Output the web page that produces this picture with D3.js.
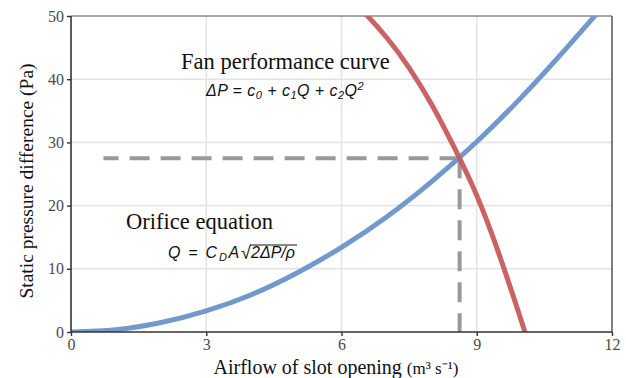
<!DOCTYPE html>
<html>
<head>
<meta charset="utf-8">
<script src="https://cdn.jsdelivr.net/npm/d3@7"></script>
<style>
  html, body { margin: 0; padding: 0; background: #fff; }
  svg { display: block; }
</style>
</head>
<body>
<script>
// values
var xTicks = [0, 3, 6, 9, 12];
var yTicks = [0, 10, 20, 30, 40, 50];

// orifice equation (blue)
var orificeQ = [0, 1, 2, 3, 4, 5, 6, 7, 8, 9, 10, 11, 11.8];
var orificeDP = [0, 0.37, 1.5, 3.35, 5.9, 9.3, 13.4, 18.2, 23.8, 30.1, 37.2, 45, 51.5];

// fan performance curve (red)
var fanQ = [6.3, 6.5, 7, 7.5, 8, 8.5, 9, 9.5, 10, 10.2];
var fanDP = [52.0, 50.6, 46.6, 41.8, 36.0, 29.2, 21.6, 12.2, 1.5, -3.0];

// operating point and where the horizontal guide starts
var opQ = 8.62, opDP = 27.5, guideStartQ = 0.72;

var W = 626, H = 378;
var margin = { top: 16, right: 14, bottom: 46, left: 71 },
  width = 612 - margin.left,
  height = 332 - margin.top;

var x = d3.scaleLinear().domain([0, 12]).range([0, width]);
var y = d3.scaleLinear().domain([0, 50]).range([height, 0]);

var svg = d3.select("body").append("svg")
  .attr("width", W)
  .attr("height", H);

svg.append("defs").append("clipPath")
  .attr("id", "plot")
  .append("rect")
  .attr("width", width)
  .attr("height", height);

var g = svg.append("g")
  .attr("transform", "translate(" + margin.left + "," + margin.top + ")");

// grid
g.selectAll(".vgrid")
  .data(xTicks.slice(1, -1))
  .enter().append("line")
  .attr("x1", function (d) { return x(d); })
  .attr("x2", function (d) { return x(d); })
  .attr("y1", 0).attr("y2", height)
  .attr("stroke", "#e3e3e3").attr("stroke-width", 1.5);

g.selectAll(".hgrid")
  .data(yTicks.slice(1, -1))
  .enter().append("line")
  .attr("y1", function (d) { return y(d); })
  .attr("y2", function (d) { return y(d); })
  .attr("x1", 0).attr("x2", width)
  .attr("stroke", "#e3e3e3").attr("stroke-width", 1.5);

// frame top / right
g.append("line").attr("x1", 0).attr("x2", width).attr("y1", 0).attr("y2", 0)
  .attr("stroke", "#888").attr("stroke-width", 1.5);
g.append("line").attr("x1", width).attr("x2", width).attr("y1", 0).attr("y2", height)
  .attr("stroke", "#555").attr("stroke-width", 1.5);

var plot = g.append("g").attr("clip-path", "url(#plot)");

// dashed guides to the operating point
plot.append("line")
  .attr("x1", x(opQ)).attr("y1", y(opDP))
  .attr("x2", x(guideStartQ)).attr("y2", y(opDP))
  .attr("stroke", "#999").attr("stroke-width", 4)
  .attr("stroke-dasharray", "20,11");
plot.append("line")
  .attr("x1", x(opQ)).attr("y1", y(opDP))
  .attr("x2", x(opQ)).attr("y2", height)
  .attr("stroke", "#999").attr("stroke-width", 4)
  .attr("stroke-dasharray", "20,11");

var line = d3.line()
  .x(function (d) { return x(d[0]); })
  .y(function (d) { return y(d[1]); })
  .curve(d3.curveNatural);

plot.append("path")
  .datum(d3.zip(orificeQ, orificeDP))
  .attr("d", line)
  .attr("fill", "none")
  .attr("stroke", "#7199cb")
  .attr("stroke-width", 5);

plot.append("path")
  .datum(d3.zip(fanQ, fanDP))
  .attr("d", line)
  .attr("fill", "none")
  .attr("stroke", "#c65b5c")
  .attr("stroke-width", 5)
  .attr("stroke-opacity", 0.95);

// axes
var xAxis = g.append("g")
  .attr("transform", "translate(0," + height + ")")
  .call(d3.axisBottom(x).tickValues(xTicks).tickSize(4).tickPadding(3));
var yAxis = g.append("g")
  .call(d3.axisLeft(y).tickValues(yTicks).tickSize(4).tickPadding(3));

[xAxis, yAxis].forEach(function (a) {
  a.select(".domain").attr("stroke", "#333").attr("stroke-width", 1.6);
  a.selectAll(".tick line").attr("stroke", "#333").attr("stroke-width", 1.4);
  a.selectAll(".tick text")
    .attr("fill", "#4a4a4a")
    .style("font-family", "'Liberation Serif', 'Times New Roman', serif")
    .style("font-size", "16px");
});
xAxis.select(".domain").attr("d", "M0,0H" + width);
yAxis.select(".domain").attr("d", "M0," + height + "V0");

var serif = "'Liberation Serif', 'Times New Roman', serif";
var mathFont = "'Liberation Sans', Arial, sans-serif";

// stretch a text's letter spacing so it spans [x0, x1]
function fitSpan(sel, x0, x1) {
  var b = sel.node().getBBox();
  var n = sel.text().length;
  sel.style("letter-spacing", ((x1 - x0) - b.width) / n + "px");
  b = sel.node().getBBox();
  sel.attr("x", +sel.attr("x") + (x0 - b.x));
}

// scale a label's font size so it spans [x0, x1]
function fitSize(sel, x0, x1) {
  var fs = parseFloat(sel.style("font-size"));
  var b = sel.node().getBBox();
  sel.style("font-size", (fs * (x1 - x0) / b.width) + "px");
  b = sel.node().getBBox();
  sel.attr("x", +sel.attr("x") + (x0 - b.x));
}

// axis titles
svg.append("text")
  .attr("x", 336).attr("y", 374)
  .attr("text-anchor", "middle")
  .style("font-family", serif)
  .style("font-size", "20px")
  .attr("fill", "#111")
  .text("Airflow of slot opening ")
  .append("tspan").style("font-size", "17px").text("(m³ s⁻¹)");

svg.append("text")
  .attr("transform", "translate(33,181) rotate(-90)")
  .attr("text-anchor", "middle")
  .style("font-family", serif)
  .style("font-size", "19.5px")
  .attr("fill", "#111")
  .text("Static pressure difference (Pa)");

// annotations
var fanLabel = svg.append("text")
  .attr("x", 181).attr("y", 69)
  .style("font-family", serif)
  .style("font-size", "22px")
  .attr("fill", "#111")
  .text("Fan performance curve");
fitSize(fanLabel, 181, 390);

var eq1 = svg.append("text")
  .attr("x", 205).attr("y", 96)
  .style("font-family", mathFont)
  .style("font-style", "italic")
  .style("font-size", "16px")
  .attr("fill", "#111");
eq1.append("tspan").text("ΔP = c");
eq1.append("tspan").attr("dy", 3).style("font-size", "11px").text("0");
eq1.append("tspan").attr("dy", -3).text(" + c");
eq1.append("tspan").attr("dy", 3).style("font-size", "11px").text("1");
eq1.append("tspan").attr("dy", -3).text("Q + c");
eq1.append("tspan").attr("dy", 3).style("font-size", "11px").text("2");
eq1.append("tspan").attr("dy", -3).text("Q");
eq1.append("tspan").attr("dy", -6).style("font-size", "11px").text("2");
fitSpan(eq1, 205, 364);

var orificeLabel = svg.append("text")
  .attr("x", 126).attr("y", 229)
  .style("font-family", serif)
  .style("font-size", "22px")
  .attr("fill", "#111")
  .text("Orifice equation");
fitSize(orificeLabel, 126, 273);

var eq2 = svg.append("text")
  .attr("x", 168).attr("y", 258)
  .style("font-family", mathFont)
  .style("font-style", "italic")
  .style("font-size", "16px")
  .attr("fill", "#111");
eq2.append("tspan").text("Q = C");
eq2.append("tspan").attr("dy", 3).style("font-size", "11px").text("D");
eq2.append("tspan").attr("dy", -3).text("A");
fitSpan(eq2, 168, 241);

var root = svg.append("text")
  .attr("x", 241).attr("y", 259)
  .style("font-family", mathFont)
  .style("font-size", "18px")
  .attr("fill", "#111")
  .text("√");
var rootBox = root.node().getBBox();

var radicand = svg.append("text")
  .attr("x", 250).attr("y", 258)
  .style("font-family", mathFont)
  .style("font-style", "italic")
  .style("font-size", "16px")
  .attr("fill", "#111")
  .text("2ΔP/ρ");
fitSpan(radicand, 250, 295);
svg.append("line")
  .attr("x1", rootBox.x + rootBox.width - 1).attr("x2", 297)
  .attr("y1", rootBox.y + 2).attr("y2", rootBox.y + 2)
  .attr("stroke", "#111").attr("stroke-width", 1);
</script>
</body>
</html>
